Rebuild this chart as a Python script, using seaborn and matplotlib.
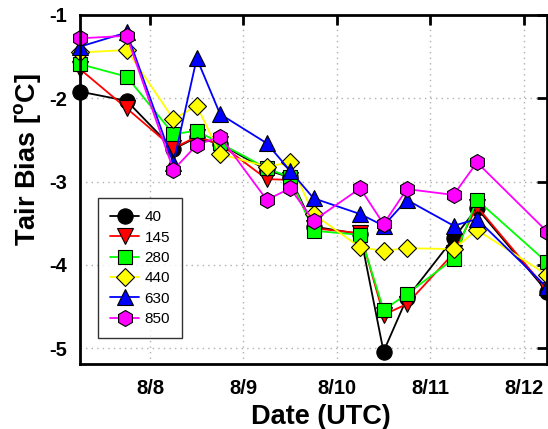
import matplotlib
matplotlib.use("Agg")
import matplotlib.pyplot as plt
import numpy as np
import pandas as pd
import seaborn as sns

# sample times (UTC)
times = pd.to_datetime([
    "2013-08-07 06:00", "2013-08-07 18:00", "2013-08-08 06:00", "2013-08-08 12:00",
    "2013-08-08 18:00", "2013-08-09 06:00", "2013-08-09 12:00", "2013-08-09 18:00",
    "2013-08-10 06:00", "2013-08-10 12:00", "2013-08-10 18:00", "2013-08-11 06:00",
    "2013-08-11 12:00", "2013-08-12 06:00",
])

# Tair bias per level
bias_40 = [-1.92, -2.03, -2.61, -2.47, -2.55, -2.86, -2.95, -3.54, -3.63, -5.04, -4.40, -3.68, -3.32, -4.32]
bias_145 = [-1.65, -2.12, -2.60, -2.46, -2.55, -2.97, -2.98, -3.56, -3.62, -4.60, -4.47, -3.86, -3.30, -4.30]
bias_280 = [-1.59, -1.74, -2.43, -2.39, -2.54, -2.84, -2.95, -3.59, -3.64, -4.54, -4.35, -3.93, -3.22, -3.97]
bias_440 = [-1.45, -1.42, -2.25, -2.09, -2.67, -2.82, -2.77, -3.39, -3.79, -3.83, -3.80, -3.81, -3.58, -4.12]
bias_630 = [-1.38, -1.21, -2.78, -1.52, -2.19, -2.54, -2.87, -3.20, -3.39, -3.53, -3.22, -3.53, -3.45, -4.27]
bias_850 = [-1.28, -1.25, -2.86, -2.56, -2.46, -3.22, -3.08, -3.47, -3.08, -3.51, -3.09, -3.16, -2.77, -3.60]

levels = ["40", "145", "280", "440", "630", "850"]
series = [bias_40, bias_145, bias_280, bias_440, bias_630, bias_850]

tick_dates = pd.to_datetime(["2013-08-08", "2013-08-09", "2013-08-10", "2013-08-11", "2013-08-12"])
tick_labels = ["8/8", "8/9", "8/10", "8/11", "8/12"]
y_ticks = [-5, -4, -3, -2, -1]

colors = ["#000000", "#ff0000", "#00ff00", "#ffff00", "#0000ff", "#ff00ff"]
markers = ["o", "v", "s", "D", "^", "h"]
msizes = [11, 11, 9.5, 9.5, 11, 11.5]

sns.set_style("white")
plt.rcParams["font.family"] = ["Liberation Sans", "DejaVu Sans"]
plt.rcParams["mathtext.fontset"] = "custom"
plt.rcParams["mathtext.bf"] = "Liberation Sans:bold"
plt.rcParams["mathtext.rm"] = "Liberation Sans:bold"
for key in ["text.color", "axes.labelcolor", "xtick.color", "ytick.color"]:
    plt.rcParams[key] = "black"

fig = plt.figure(figsize=(5.48, 4.29), dpi=100)
ax = fig.add_axes([80 / 548, 1 - 364 / 429, 467 / 548, 349 / 429])

for lev, vals, c, m, ms in zip(levels, series, colors, markers, msizes):
    sns.lineplot(x=times, y=vals, ax=ax, color=c, marker=m, markersize=ms,
                 markeredgecolor="k", markeredgewidth=0.8, linewidth=1.3,
                 label=lev, clip_on=False)

ax.set_xlim(pd.Timestamp("2013-08-07 06:00"), pd.Timestamp("2013-08-12 06:00"))
ax.set_ylim(-5.19, -1)
ax.set_xticks(tick_dates)
ax.set_xticklabels(tick_labels)
ax.set_yticks(y_ticks)
ax.set_yticklabels([str(v) for v in y_ticks])

ax.grid(True, color="#b0b0b0", linestyle=(0, (1, 3)), linewidth=1)
ax.tick_params(axis="both", direction="in", top=True, right=True, length=7, width=2,
               labelsize=14.5, color="k")
ax.tick_params(axis="x", pad=11)
ax.tick_params(axis="y", pad=9)
for lbl in ax.get_xticklabels() + ax.get_yticklabels():
    lbl.set_fontweight("bold")
for sp in ax.spines.values():
    sp.set_linewidth(2)
    sp.set_color("k")

ax.set_xlabel("Date (UTC)", fontsize=19.5, fontweight="bold", labelpad=4)
ax.set_ylabel(r"Tair Bias [$^{\mathbf{o}}$C]", fontsize=19.5, fontweight="bold", labelpad=5)
ax.xaxis.label.set_x(0.516)
ax.yaxis.label.set_y(0.585)

leg = ax.legend(loc="upper left", bbox_to_anchor=(0.0385, 0.476), borderaxespad=0,
                fancybox=False, frameon=True, edgecolor="k", fontsize=11,
                handlelength=1.9, handletextpad=0.35, labelspacing=0.42,
                borderpad=0.8)
leg.get_frame().set_linewidth(1)

fig.savefig("out.png", dpi=100)
